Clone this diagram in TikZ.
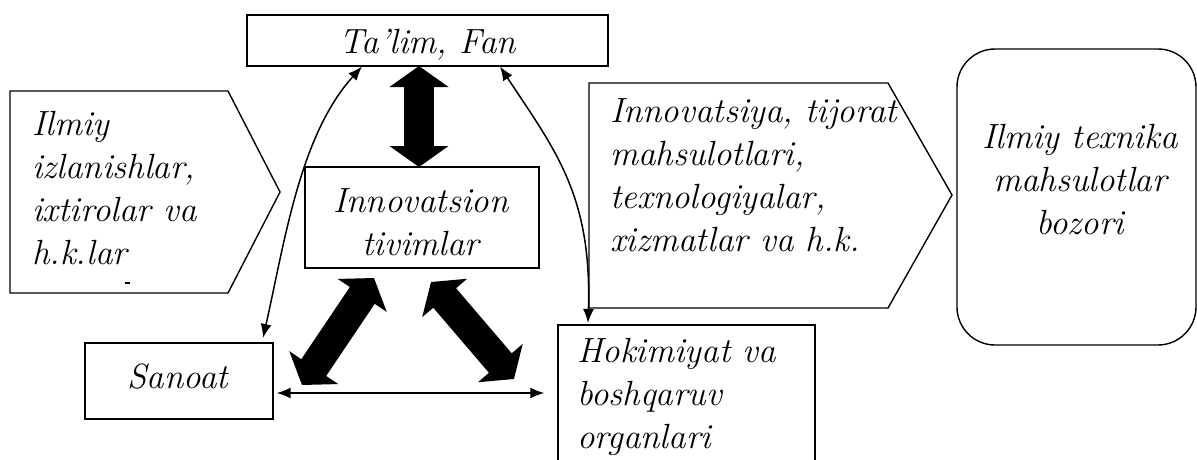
\documentclass[tikz,border=0pt]{standalone}
\usetikzlibrary{arrows.meta}
\tikzset{
  box/.style={draw, line width=1.4pt, rectangle, inner sep=0pt},
  lbl/.style={inner sep=0pt, font=\fontsize{35}{43}\selectfont\itshape},
  thinarrow/.style={line width=1.5pt, {Latex[length=14pt,width=11pt]}-{Latex[length=14pt,width=11pt]}},
  fatarrow/.style={line width=30pt, {Triangle[length=21pt,width=58pt]}-{Triangle[length=21pt,width=58pt]}},
  outline/.style={line width=1.4pt, line join=miter}
}
\begin{document}
\begin{tikzpicture}[x=1pt,y=-1pt]
\useasboundingbox (0,0) rectangle (1197,459);
% boxes
\node[box, minimum width=361, minimum height=51] (tal) at (427.5,40.5) {};
\node[box, minimum width=234, minimum height=101] (inn) at (422,217.5) {};
\node[box, minimum width=188, minimum height=76] (san) at (179,381) {};
\node[box, minimum width=257, minimum height=170] (hok) at (686.5,410) {};
\node[box, rounded corners=38pt, minimum width=239, minimum height=296] (mkt) at (1076.5,197) {};
% pentagons
\draw[outline] (10,91) -- (228,91) -- (280,192) -- (228,293) -- (10,293) -- cycle;
\draw[outline] (589,83) -- (888,83) -- (952,195) -- (888,308) -- (589,308) -- cycle;
\draw[line width=1.2pt] (125,283) -- (130,283);
% texts
\node[lbl, anchor=base] (talt) at (428,53) {Ta’lim, Fan};
\node[lbl, anchor=base] (innt) at (421,212) {\begin{tabular}[t]{@{}c@{}}Innovatsion\\tivimlar\end{tabular}};
\node[lbl, anchor=base] (sant) at (178,388) {Sanoat};
\node[lbl, anchor=base west] (hokt) at (577,362) {\begin{tabular}[t]{@{}l@{}}Hokimiyat va\\boshqaruv\\organlari\end{tabular}};
\node[lbl, anchor=base west] (lpt) at (32,135) {\begin{tabular}[t]{@{}l@{}}Ilmiy\\izlanishlar,\\ixtirolar va\\h.k.lar\end{tabular}};
\node[lbl, anchor=base west] (rpt) at (610,122) {\begin{tabular}[t]{@{}l@{}}Innovatsiya, tijorat\\mahsulotlari,\\texnologiyalar,\\xizmatlar va h.k.\end{tabular}};
\node[lbl, anchor=base] (mktt) at (1080,148) {\begin{tabular}[t]{@{}c@{}}Ilmiy texnika\\mahsulotlar\\bozori\end{tabular}};
% coordinates for connectors
\coordinate (v1) at (419,66);
\coordinate (v2) at (419,167);
\coordinate (l1) at (302,385);
\coordinate (l2) at (374,278);
\coordinate (r1) at (431,282);
\coordinate (r2) at (514,379);
\coordinate (c1a) at (362,66.5);
\coordinate (c1b) at (263,338);
\coordinate (c2a) at (500,66.5);
\coordinate (c2b) at (588,323);
% thick arrows
\draw[fatarrow] (v1) -- (v2);
\draw[fatarrow] (l1) -- (l2);
\draw[fatarrow] (r1) -- (r2);
% thin arrows
\draw[thinarrow, shorten <=3pt, shorten >=13pt] (san.east |- 0,393) -- (hok.west |- 0,393);
\draw[thinarrow] (c1a) .. controls (300,135) and (285,240) .. (c1b);
\draw[thinarrow] (c2a) .. controls (555,150) and (592,195) .. (c2b);
\end{tikzpicture}
\end{document}
